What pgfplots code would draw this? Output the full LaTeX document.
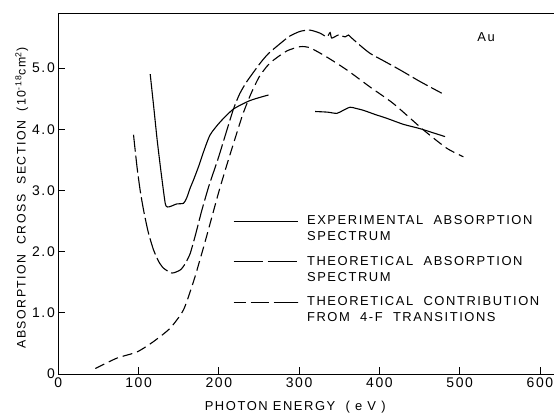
\documentclass[border=0pt]{standalone}
\usepackage{fontspec}
\setmainfont{Liberation Sans}
\newfontfamily\lett[LetterSpace=12]{Liberation Sans}
\usepackage{pgfplots}
\pgfplotsset{compat=1.18}
\pgfplotstableread{
x y
114.5 4.90
119 4.35
123.2 3.82
128 3.30
133.2 2.79
136.1 2.73
140 2.74
147.8 2.78
156.0 2.79
160 2.88
164.3 3.04
168.4 3.17
175 3.40
180.9 3.63
189.2 3.91
201.7 4.12
218.2 4.33
239.0 4.47
261.8 4.56
}\expA
\pgfplotstableread{
x y
320 4.29
335 4.28
347 4.26
355 4.31
363.5 4.36
371 4.34
380 4.31
395 4.24
409 4.18
430 4.08
450.6 4.01
465 3.95
481.8 3.88
}\expB
\pgfplotstableread{
x y
93.7 3.91
98.0 3.39
102 3.00
106.2 2.68
112 2.32
118.6 2.03
125 1.84
131.1 1.73
141.5 1.65
151.9 1.70
158 1.80
164.3 1.97
171 2.28
178.9 2.68
188 3.09
198.6 3.50
208 3.90
218.2 4.33
226 4.58
234.9 4.78
251.5 5.08
262 5.24
276.4 5.40
288 5.52
301.3 5.60
313.7 5.62
326.2 5.57
334.5 5.51
338.6 5.58
340.7 5.49
349.0 5.54
357.3 5.51
361.4 5.54
365.6 5.49
376 5.37
388.4 5.24
405 5.12
425.7 4.97
450.6 4.78
477.6 4.59
}\theo
\pgfplotstableread{
x y
46.1 0.09
73.1 0.26
98.0 0.36
118.6 0.53
139.4 0.75
156.0 1.05
168.4 1.51
175 1.80
182 2.12
191 2.55
200 2.98
210 3.42
220 3.84
230 4.25
240 4.58
250 4.85
260 5.03
268.1 5.13
284.7 5.28
301.3 5.35
313.7 5.33
334.5 5.18
359.4 4.97
388.4 4.69
417.4 4.42
454.8 3.99
483.9 3.69
504.6 3.55
}\fourf
\begin{document}
\begin{tikzpicture}
\useasboundingbox (-58.3bp,-40bp) rectangle (495.7bp,374bp);
\begin{axis}[
  scale only axis, width=497.7bp, height=361bp,
  xmin=0, xmax=620, ymin=0, ymax=5.9,
  axis line style={line width=0.9bp},
  tick pos=left, tick align=inside, major tick length=7bp,
  tick style={line width=0.8bp, black},
  xtick={0,100,...,600}, ytick={0,1,...,5},
  xticklabels={0,100,200,300,400,500,600},
  yticklabels={0,1.0,2.0,3.0,4.0,5.0},
  ticklabel style={font=\lett\fontsize{14}{16}\selectfont},
  /pgf/number format/assume math mode=true,
  xlabel={PHOTON\ ENERGY\ \ ( e V )},
  xlabel style={at={(axis description cs:0.476,0)}, anchor=center, yshift=-33bp, font=\lett\fontsize{13}{15}\selectfont},
  ylabel={ABSORPTION\ \ CROSS\ \ SECTION\ \ (10\textsuperscript{-18}cm\textsuperscript{2})},
  ylabel style={at={(axis description cs:-0.0733,0.487)}, anchor=center, font=\lett\fontsize{12.4}{15}\selectfont},
  legend style={at={(axis description cs:0.351,0.4507)}, anchor=north west, draw=none, fill=none,
    inner xsep=0pt, inner ysep=0pt, outer sep=0pt, row sep=24bp, column sep=7bp,
    cells={anchor=base west, inner sep=0pt},
    font=\lett\fontsize{13}{16}\selectfont},
  legend image code/.code={\draw[#1, line width=1.1bp] (0bp,0.34em) -- (64bp,0.34em);},
  every axis plot/.append style={line width=1.1bp, black, smooth, tension=0.4},
]
\addplot[solid, forget plot] table {\expA};
\addplot[solid, forget plot] table {\expB};
\addplot[dash pattern=on 17bp off 4bp, forget plot] table {\theo};
\addplot[dash pattern=on 10bp off 5bp, forget plot] table {\fourf};
\addlegendimage{solid}
\addlegendentry{\begin{tabular}[t]{@{}l@{}}EXPERIMENTAL\ \ ABSORPTION\\SPECTRUM\end{tabular}}
\addlegendimage{dash pattern=on 29bp off 5bp}
\addlegendentry{\begin{tabular}[t]{@{}l@{}}THEORETICAL\ \ ABSORPTION\\SPECTRUM\end{tabular}}
\addlegendimage{dash pattern=on 12bp off 5bp on 18bp off 5bp on 24bp off 0bp}
\addlegendentry{\begin{tabular}[t]{@{}l@{}}THEORETICAL\ \ CONTRIBUTION\\FROM\ \ 4-F\ \ TRANSITIONS\end{tabular}}
\node[font=\lett\fontsize{13}{15}\selectfont] at (axis cs:533,5.5) {Au};
\end{axis}
\end{tikzpicture}
\end{document}
